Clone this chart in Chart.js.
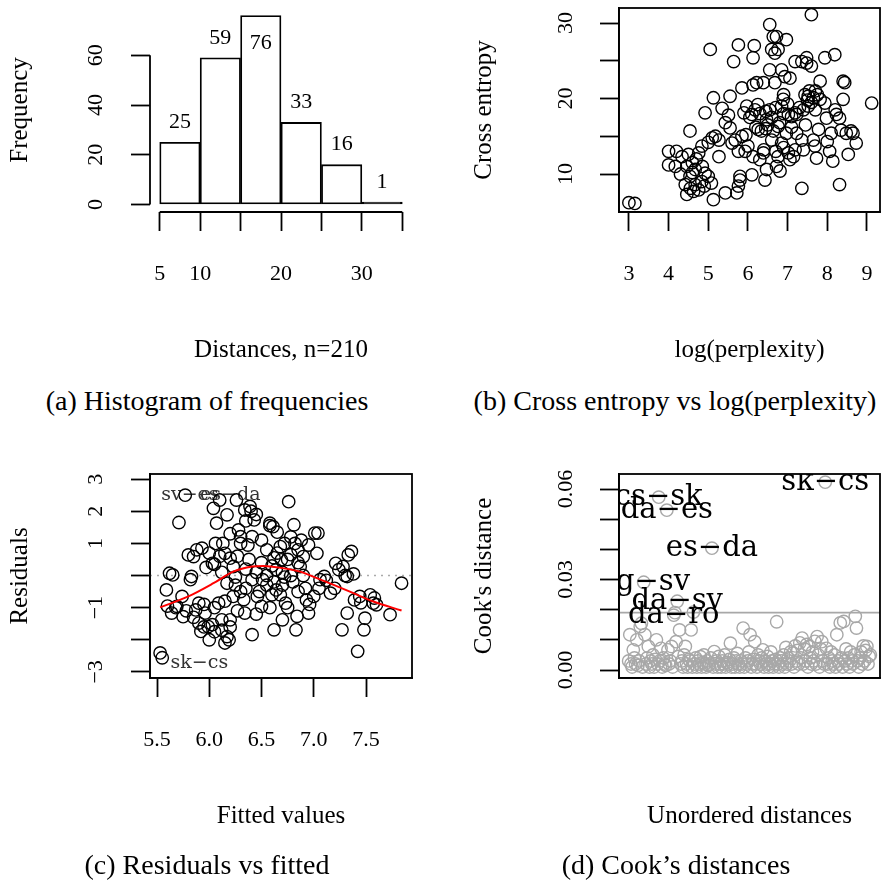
<!DOCTYPE html>
<html><head><meta charset="utf-8">
<script src="https://cdn.jsdelivr.net/npm/chart.js@4.4.1/dist/chart.umd.min.js"></script>
<style>
html,body{margin:0;padding:0;background:#fff;}
body{width:884px;height:883px;position:relative;overflow:hidden;font-family:'Liberation Serif',serif;color:#000;}
canvas{position:absolute;}
.cap{position:absolute;font-size:28px;line-height:40px;height:40px;white-space:nowrap;transform:translateX(-50%);}
</style></head><body>
<canvas id="ca" width="442" height="380" style="left:0;top:0"></canvas>
<canvas id="cb" width="442" height="380" style="left:442px;top:0"></canvas>
<canvas id="cc" width="442" height="380" style="left:0;top:466px"></canvas>
<canvas id="cd" width="442" height="380" style="left:442px;top:466px"></canvas>
<div class="cap" style="left:207px;top:381px">(a) Histogram of frequencies</div>
<div class="cap" style="left:675px;top:381px">(b) Cross entropy vs log(perplexity)</div>
<div class="cap" style="left:207px;top:845px">(c) Residuals vs fitted</div>
<div class="cap" style="left:676px;top:845px">(d) Cook’s distances</div>
<script>
// ---------- (a) histogram ----------
const histBreaks = [5,10,15,20,25,30,35];
const histCounts = [25,59,76,33,16,1];
const histXTicks = [5,10,15,20,25,30,35];
const histXTickLabels = ['5','10','','20','','30',''];
const histYTicks = [0,20,40,60];
const histYTickLabels = ['0','20','40','60'];

// ---------- (b) cross entropy vs log(perplexity) ----------
const entropyPoints = [
[3.0,6.2],[3.15,6.1],
[4.0,13.0],[4.2,13.0],[4.0,11.2],[4.17,11.0],[4.34,12.3],[4.5,12.6],[4.46,11.0],[4.6,11.5],[4.67,10.6],[4.54,9.7],[4.42,8.6],[4.46,7.3],[4.63,7.7],[4.76,7.9],[4.67,8.6],[4.84,9.0],[4.92,10.1],[5.0,9.7],[5.08,8.8],[5.13,6.6],[4.84,13.7],[4.76,12.8],[4.54,15.7],[4.92,18.1],[5.05,26.5],
[5.27,12.3],[5.18,15.0],[5.27,14.5],[5.35,18.7],[5.13,20.1],[5.43,7.5],[5.43,16.8],[5.55,16.1],[5.51,17.8],[5.55,20.3],[5.64,24.9],[5.76,27.1],[5.6,14.1],[5.68,14.5],[5.76,13.0],[5.85,15.0],[5.72,7.5],[5.76,8.4],[5.8,9.2],[5.8,9.7],[5.85,21.4],[5.9,18.1],[5.97,19.0],[5.93,13.0],
[6.1,9.9],[6.16,27.0],[6.13,25.4],[6.13,21.8],[6.22,22.1],[6.39,22.1],[6.1,17.9],[6.18,18.5],[6.26,15.9],[6.34,15.7],[6.3,11.9],[6.13,12.3],[6.0,13.7],[6.39,12.8],[6.43,9.2],[6.47,10.6],[6.55,29.8],[6.64,28.2],[6.6,26.5],[6.72,28.2],[6.97,27.8],[6.76,26.5],[6.68,26.0],[6.55,23.8],[6.85,23.8],[6.93,22.9],[7.06,22.7],[6.68,22.1],[6.55,18.5],[6.47,17.2],[6.64,15.7],[6.76,16.3],[6.89,19.9],[6.85,19.0],[7.02,17.9],[6.97,15.4],[6.85,14.1],[6.76,12.3],[6.72,11.0],[6.81,10.4],[7.02,12.8],[7.15,12.3],[7.06,11.9],[7.23,17.9],[7.19,18.1],[7.23,15.4],[7.36,14.5],[7.4,13.2],[7.36,8.1],
[7.19,24.9],[7.36,24.9],[7.48,25.4],[7.48,24.7],[7.6,24.3],[7.6,31.1],[7.44,20.5],[7.52,20.3],[7.65,20.1],[7.52,19.0],[7.4,18.5],[7.82,22.3],[7.94,25.4],[8.19,25.8],[7.78,15.9],[7.65,14.5],[7.69,13.7],[7.73,12.1],[8.06,13.0],[8.14,11.7],[8.31,8.6],[7.98,17.4],[8.23,17.9],[8.31,17.4],[8.4,22.3],[8.44,22.1],[8.4,19.9],[8.48,15.4],[8.6,15.7],[8.73,14.1],[8.53,12.6],[9.12,19.4],[8.1,15.4],[7.82,19.9],[7.94,19.4],[7.19,13.2],
[6.3,18.0],[6.45,18.3],[6.6,17.5],[6.7,18.8],[6.9,18.0],[7.1,17.6],[6.5,16.5],[6.8,16.8],[7.3,18.8],[7.6,19.5],[7.7,18.5],[6.25,19.2],[6.05,17.5],[6.6,14.5],[6.9,13.5],[6.4,13.2],[7.45,16.5],[7.55,21.0],[7.75,20.5],[8.2,18.5],[8.35,15.8],[8.65,15.4],[8.0,14.3],[6.9,20.5],[7.0,19.3],[6.2,16.2],[5.95,15.2],[4.3,10.0],[4.6,10.2],[4.85,11.0],[4.7,12.0],[5.0,14.2],[5.1,14.8],[4.9,8.4],[4.55,8.1],[6.45,16.0],[6.7,13.0],[7.1,16.2],[7.5,19.8],[7.7,21.0]
];
const entropyXTicks = [3,4,5,6,7,8,9];
const entropyXTickLabels = ['3','4','5','6','7','8','9'];
const entropyYTicks = [10,15,20,25,30];
const entropyYTickLabels = ['10','','20','','30'];

// ---------- (c) residuals vs fitted ----------
const residualPoints = [
[5.53,-2.41],[5.55,-2.56],[5.71,1.65],[5.77,2.5],[5.59,-0.45],[5.62,0.07],[5.65,0.02],[5.64,-1.17],[5.69,-0.96],[5.74,-0.65],[5.75,-1.28],[5.8,0.64],[5.83,-0.03],[5.82,-0.13],[5.85,0.59],[5.87,-1.07],[5.9,-0.86],[5.9,-1.48],[5.93,0.85],[5.92,-1.74],[5.96,-1.17],[5.99,-1.59],[6.0,-2.0],[6.03,0.38],[6.03,-1.53],[6.04,2.09],[6.06,1.0],[6.07,1.63],[6.09,-0.86],[6.1,2.35],[6.12,-1.38],[6.13,1.0],[6.15,0.69],[6.17,1.89],[6.17,-0.24],[6.17,-1.9],[6.19,-2.0],[6.2,-1.38],[6.2,0.54],[6.23,0.28],[6.23,-0.65],[6.26,2.35],[6.28,1.42],[6.3,-0.5],[6.3,1.21],[6.34,-1.17],[6.37,0.95],[6.34,2.04],[6.39,2.15],[6.43,1.73],[6.41,1.21],[6.41,-0.13],[6.41,-1.84],[6.46,-0.65],[6.5,-0.96],[6.51,-0.13],[6.55,0.8],[6.58,1.63],[6.61,1.52],[6.62,-1.69],[6.64,0.18],[6.64,-0.45],[6.68,0.9],[6.69,0.49],[6.7,-1.38],[6.73,-0.86],[6.76,2.3],[6.81,1.58],[6.83,-1.69],[6.84,-1.27],[6.85,0.8],[6.87,0.28],[6.9,0.59],[6.93,-0.76],[6.95,-1.17],[7.0,-0.65],[7.01,1.32],[7.04,1.32],[7.03,0.69],[7.06,-0.13],[7.1,-0.03],[7.16,-0.55],[7.21,0.38],[7.24,0.18],[7.28,0.28],[7.27,-1.69],[7.32,-1.17],[7.33,0.64],[7.36,0.75],[7.42,-2.36],[7.39,-0.76],[7.44,-0.65],[7.48,-1.69],[7.49,-1.33],[7.54,-0.6],[7.57,-0.86],[7.6,-0.91],[7.73,-1.22],[7.84,-0.24],[7.32,-0.03],
[6.55,0.0],[6.6,0.3],[6.7,0.1],[6.75,0.5],[6.8,-0.2],[6.6,-0.6],[6.7,-0.3],[6.5,0.4],[6.45,0.1],[6.85,0.4],[6.9,0.0],[6.65,0.7],[6.72,1.0],[6.78,0.65],[6.82,1.0],[6.35,-0.4],[6.25,-0.3],[6.15,-0.8],[6.05,-1.0],[5.95,-0.9],[6.0,0.7],[5.88,0.8],[6.1,0.6],[6.2,1.3],[6.3,1.0],[6.45,1.9],[6.4,2.0],[6.35,1.7],
[5.6,-0.95],[5.68,-1.0],[5.78,-1.1],[5.85,-1.3],[5.95,-1.6],[6.05,-1.75],[6.12,-1.7],[6.15,-2.1],[6.2,-1.6],[6.27,-1.1],[6.33,-0.75],[6.45,-1.2],[6.55,-0.3],[6.58,-1.0],[6.62,-0.2],[6.68,-0.6],[6.75,-1.0],[6.78,0.0],[6.92,-0.4],[6.96,-0.9],[7.05,-0.4],[7.12,-0.15],[7.2,-0.4],[7.3,0.0],[7.38,0.05],[7.45,-0.85],[7.58,-0.7],[6.95,0.95],[6.88,1.1],[6.78,1.2],[6.65,1.35],[6.58,1.55],[6.5,1.1],[6.38,0.5],[6.27,0.6],[6.05,0.35],[5.97,0.25],[6.12,0.1],[6.25,-0.05],[6.35,0.2],[6.48,-0.5],[6.62,0.55],[6.85,-0.5],[6.72,-0.05]
];
const smoothX = [5.53,5.8,6.04,6.23,6.41,6.52,6.7,6.87,7.03,7.19,7.38,7.57,7.84];
const smoothY = [-0.99,-0.65,-0.24,0.12,0.28,0.3,0.23,0.12,-0.08,-0.29,-0.55,-0.81,-1.09];
const residLabelText = ['sv−es','es−da','sk−cs'];
const residLabelX = [5.54,6.49,5.63];
const residLabelY = [2.5,2.5,-2.73];
const residLabelAlign = ['left','right','left'];
const residXTicks = [5.5,6.0,6.5,7.0,7.5];
const residXTickLabels = ['5.5','6.0','6.5','7.0','7.5'];
const residYTicks = [-3,-2,-1,0,1,2,3];
const residYTickLabels = ['−3','','−1','','1','2','3'];

// ---------- (d) Cook's distances ----------
const cooksDistance = [
.003,.0117,.002,.001,.0067,.004,.002,.01,.0015,.003,
.0144,.0155,.001,.0291,.0117,.002,.004,.0078,.001,.003,
.002,.005,.001,.0035,.01,.002,.0573,.003,.0072,.001,
.004,.002,.0015,.053,.0067,.002,.003,.0078,.001,.0182,
.019,.0094,.0228,.0045,.0133,.002,.003,.001,.005,.0078,
.002,.001,.0035,.003,.0133,.001,.0192,.002,.004,.001,
.003,.002,.0044,.001,.0025,.005,.002,.001,.003,.0015,
.002,.004,.0404,.001,.0061,.002,.003,.001,.0045,.002,
.001,.003,.002,.005,.001,.0025,.002,.0035,.0089,.001,
.002,.004,.001,.003,.0055,.002,.001,.003,.002,.0139,
.001,.004,.002,.003,.006,.0117,.001,.002,.0035,.0094,
.002,.001,.005,.003,.002,.004,.0067,.001,.003,.002,
.0045,.001,.002,.006,.003,.001,.002,.0035,.016,.002,
.001,.004,.003,.002,.005,.001,.0075,.002,.004,.003,
.006,.002,.0056,.001,.008,.003,.0065,.002,.009,.004,
.0106,.002,.007,.003,.0085,.001,.0078,.004,.002,.006,
.003,.0095,.002,.0111,.005,.001,.007,.0094,.003,.002,
.0623,.0072,.002,.004,.001,.006,.003,.002,.005,.001,
.0117,.003,.002,.0156,.004,.001,.0161,.003,.007,.002,
.004,.001,.006,.003,.002,.005,.0178,.0139,.003,.001,
.004,.006,.002,.008,.003,.0065,.0078,.002,.0045,.005
];
const cookThreshold = 0.019;
const cookLabelIndex = [171,27,34,73,14,43,40];
const cookLabelText = ['sk−cs','cs−sk','da−es','es−da','bg−sv','da−sv','da−ro'];
const cookYTicks = [0,0.01,0.02,0.03,0.04,0.05,0.06];
const cookYTickLabels = ['0.00','','','0.03','','','0.06'];

// ---------- helpers ----------
Chart.defaults.font.family = "'Liberation Serif', serif";
Chart.defaults.color = '#000';
const LW = 1.8;

function fixed(size, horizontal) {
  return s => {
    if (horizontal) s.height = size; else s.width = size;
    s.paddingTop = 0; s.paddingBottom = 0; s.paddingLeft = 0; s.paddingRight = 0;
  };
}
function yAxis(o) {
  return {
    type: 'linear', position: 'left', min: o.min, max: o.max,
    border: {display: o.border !== false, color: '#000', width: LW},
    grid: {drawOnChartArea: false, drawTicks: true, tickLength: 19, tickWidth: LW, tickColor: '#000'},
    ticks: {minRotation: 90, maxRotation: 90, crossAlign: 'center', padding: o.pad, autoSkip: false,
      font: {size: 22}, color: '#000', callback: (v, i) => o.labels[i]},
    title: {display: true, text: o.title, font: {size: 25}, color: '#000', padding: {top: o.titlePad, bottom: 0}},
    afterBuildTicks: s => { s.ticks = o.ticks.map(v => ({value: v})); },
    afterFit: fixed(o.width, false)
  };
}
function xAxis(o) {
  const show = !!o.ticks;
  const ax = {
    type: 'linear', position: 'bottom', min: o.min, max: o.max, offset: false,
    border: {display: o.border !== false, color: '#000', width: LW},
    grid: {drawOnChartArea: false, drawTicks: show, tickLength: 19, tickWidth: LW, tickColor: '#000', offset: false},
    ticks: {display: show, minRotation: 0, maxRotation: 0, padding: 30, autoSkip: false,
      font: {size: 22}, color: '#000', callback: (v, i) => show ? o.labels[i] : ''},
    title: {display: true, text: o.title, font: {size: 25}, color: '#000', padding: {top: 0, bottom: 15}},
    afterFit: fixed(168, true)
  };
  if (show) ax.afterBuildTicks = s => { s.ticks = o.ticks.map(v => ({value: v})); };
  return ax;
}
const boxPlugin = {
  id: 'box',
  afterDraw(chart) {
    const {ctx, chartArea: a} = chart;
    ctx.save(); ctx.strokeStyle = '#000'; ctx.lineWidth = LW;
    ctx.strokeRect(a.left, a.top, a.right - a.left, a.bottom - a.top);
    ctx.restore();
  }
};
function baseOptions(padRight, scales) {
  return {
    responsive: false, animation: false, events: [],
    layout: {autoPadding: false, padding: {left: 0, right: padRight, top: 8, bottom: 0}},
    plugins: {legend: {display: false}, tooltip: {enabled: false}},
    scales
  };
}
const circle = (color) => ({pointStyle: 'circle', pointRadius: 6.2, pointBorderWidth: 1.4,
  pointBorderColor: color, pointBackgroundColor: 'rgba(0,0,0,0)', showLine: false});

// ---------- chart (a) ----------
const histAxesPlugin = {
  id: 'histAxes',
  afterDraw(chart) {
    const {ctx, chartArea: a, scales: {x, y}} = chart;
    ctx.save(); ctx.strokeStyle = '#000'; ctx.lineWidth = LW; ctx.beginPath();
    ctx.moveTo(a.left, y.getPixelForValue(histYTicks[0]));
    ctx.lineTo(a.left, y.getPixelForValue(histYTicks[histYTicks.length - 1]));
    ctx.moveTo(x.getPixelForValue(histXTicks[0]), a.bottom);
    ctx.lineTo(x.getPixelForValue(histXTicks[histXTicks.length - 1]), a.bottom);
    ctx.stroke();
    ctx.font = "22px 'Liberation Serif'"; ctx.fillStyle = '#000';
    ctx.textAlign = 'center'; ctx.textBaseline = 'middle';
    histCounts.forEach((c, i) => {
      const mid = (histBreaks[i] + histBreaks[i + 1]) / 2;
      const top = y.getPixelForValue(c);
      let py = top - 20;
      if (py < a.top + 10) py = top + 28;
      ctx.fillText(String(c), x.getPixelForValue(mid), py);
    });
    ctx.restore();
  }
};
new Chart(document.getElementById('ca'), {
  type: 'bar',
  data: {datasets: [{
    data: histCounts.map((c, i) => ({x: (histBreaks[i] + histBreaks[i + 1]) / 2, y: c})),
    backgroundColor: (ctx) => {
      const el = ctx.chart.scales.y;
      const v = ctx.raw ? ctx.raw.y : 0;
      return (el && Math.abs(el.getPixelForValue(0) - el.getPixelForValue(v)) < 2 * LW) ? '#000' : '#fff';
    },
    borderColor: '#000', borderWidth: LW, borderSkipped: false,
    barPercentage: 1, categoryPercentage: 1
  }]},
  options: baseOptions(30, {
    x: xAxis({min: 3.8, max: 36.2, ticks: histXTicks, labels: histXTickLabels, title: 'Distances, n=210', border: false}),
    y: yAxis({min: -3.04, max: 79.04, ticks: histYTicks, labels: histYTickLabels, title: 'Frequency',
      pad: 23.3, titlePad: 5, width: 150, border: false})
  }),
  plugins: [histAxesPlugin]
});

// ---------- chart (b) ----------
new Chart(document.getElementById('cb'), {
  type: 'scatter',
  data: {datasets: [Object.assign({data: entropyPoints.map(p => ({x: p[0], y: p[1]}))}, circle('#000'))]},
  options: baseOptions(4, {
    x: xAxis({min: 2.75, max: 9.33, ticks: entropyXTicks, labels: entropyXTickLabels, title: 'log(perplexity)'}),
    y: yAxis({min: 4.97, max: 31.99, ticks: entropyYTicks, labels: entropyYTickLabels, title: 'Cross entropy',
      pad: 22.8, titlePad: 27, width: 177})
  }),
  plugins: [boxPlugin]
});

// ---------- chart (c) ----------
const residXLim = [5.433, 7.94];
const residLabelPlugin = {
  id: 'residLabels',
  beforeDatasetsDraw(chart) {
    const {ctx, chartArea: a, scales: {x, y}} = chart;
    ctx.save();
    ctx.beginPath(); ctx.rect(a.left, a.top, a.right - a.left, a.bottom - a.top); ctx.clip();
    ctx.font = "19px 'DejaVu Serif'"; ctx.fillStyle = '#333'; ctx.textBaseline = 'middle';
    residLabelText.forEach((t, i) => {
      ctx.textAlign = residLabelAlign[i];
      ctx.fillText(t, x.getPixelForValue(residLabelX[i]), y.getPixelForValue(residLabelY[i]));
    });
    ctx.restore();
  }
};
new Chart(document.getElementById('cc'), {
  type: 'scatter',
  data: {datasets: [
    {data: smoothX.map((v, i) => ({x: v, y: smoothY[i]})), showLine: true, borderColor: '#ff0000',
      borderWidth: 2, pointRadius: 0, cubicInterpolationMode: 'monotone', order: 0},
    Object.assign({data: residualPoints.map(p => ({x: p[0], y: p[1]})), order: 1}, circle('#000')),
    {data: [{x: residXLim[0], y: 0}, {x: residXLim[1], y: 0}], showLine: true, borderColor: '#aaaaaa',
      borderWidth: 1.5, borderDash: [2, 5], pointRadius: 0, order: 2}
  ]},
  options: baseOptions(30, {
    x: xAxis({min: residXLim[0], max: residXLim[1], ticks: residXTicks, labels: residXTickLabels, title: 'Fitted values'}),
    y: yAxis({min: -3.19, max: 3.16, ticks: residYTicks, labels: residYTickLabels, title: 'Residuals',
      pad: 22.6, titlePad: 5, width: 150})
  }),
  plugins: [boxPlugin, residLabelPlugin]
});

// ---------- chart (d) ----------
const cookXLim = [-7.36, 218.36];
const cookLabelPlugin = {
  id: 'cookLabels',
  afterDatasetsDraw(chart) {
    const {ctx, chartArea: a, scales: {x, y}} = chart;
    ctx.save();
    ctx.beginPath(); ctx.rect(a.left, a.top, a.right - a.left, a.bottom - a.top); ctx.clip();
    ctx.font = "29px 'DejaVu Serif'"; ctx.fillStyle = '#000';
    ctx.textAlign = 'center'; ctx.textBaseline = 'middle';
    cookLabelIndex.forEach((idx, i) => {
      ctx.fillText(cookLabelText[i], x.getPixelForValue(idx), y.getPixelForValue(cooksDistance[idx - 1]));
    });
    ctx.restore();
  }
};
new Chart(document.getElementById('cd'), {
  type: 'scatter',
  data: {datasets: [
    Object.assign({data: cooksDistance.map((v, i) => ({x: i + 1, y: v})), order: 0}, circle('#a8a8a8')),
    {data: [{x: cookXLim[0], y: cookThreshold}, {x: cookXLim[1], y: cookThreshold}], showLine: true,
      borderColor: '#a8a8a8', borderWidth: 1.8, pointRadius: 0, order: 1}
  ]},
  options: baseOptions(4, {
    x: xAxis({min: cookXLim[0], max: cookXLim[1], title: 'Unordered distances'}),
    y: yAxis({min: -0.00265, max: 0.065, ticks: cookYTicks, labels: cookYTickLabels, title: "Cook's distance",
      pad: 14.5, titlePad: 27, width: 177})
  }),
  plugins: [boxPlugin, cookLabelPlugin]
});
</script>
</body></html>
